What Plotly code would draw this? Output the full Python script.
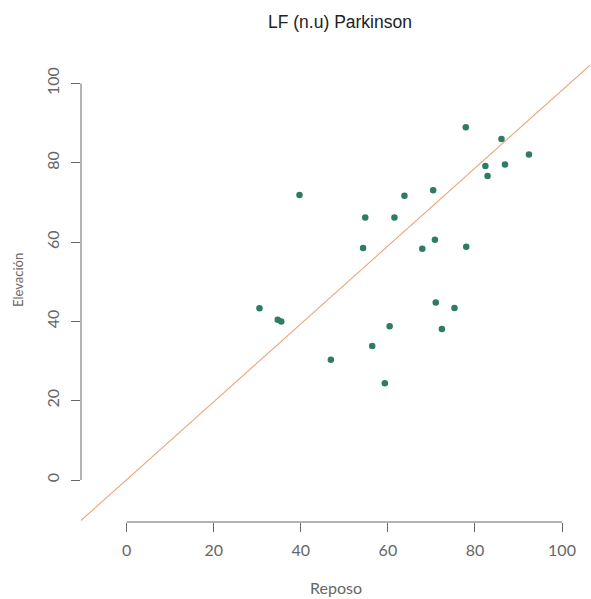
import plotly.graph_objects as go

# ---- data ----
reposo = [39.7, 77.9, 86.1, 92.4, 82.4, 86.9, 82.9, 70.4, 63.8, 54.8, 61.5, 54.3, 67.9, 70.8, 78.0,
          30.5, 34.7, 35.5, 46.9, 56.4, 60.4, 59.3, 71.0, 75.3, 72.4]
elevacion = [71.9, 89.0, 86.0, 82.1, 79.2, 79.6, 76.7, 73.1, 71.7, 66.2, 66.2, 58.5, 58.3, 60.6, 58.8,
             43.3, 40.4, 40.0, 30.3, 33.8, 38.8, 24.4, 44.8, 43.4, 38.1]
line_intercept = 0.1
line_slope = 0.982
x_ticks = [0, 20, 40, 60, 80, 100]
y_ticks = [0, 20, 40, 60, 80, 100]
title_text = "LF (n.u) Parkinson"
x_title = "Reposo"
y_title = "Elevación"

# ---- style ----
AX = "#666666"
FONT = "Lato, 'DejaVu Sans', sans-serif"
x_range = [-10.5, 106.43]
y_range = [-10.59, 111.48]

fig = go.Figure()

lx = [x_range[0] - 10, x_range[1] + 10]
ly = [line_intercept + line_slope * v for v in lx]
fig.add_trace(go.Scatter(x=lx, y=ly, mode="lines",
                         line=dict(color="#E8A77C", width=1.1), hoverinfo="skip"))

fig.add_trace(go.Scatter(x=reposo, y=elevacion, mode="markers",
                         marker=dict(color="#2F7B65", size=6.5, line=dict(width=0))))

# R-style detached axis lines spanning first to last tick
fig.add_shape(type="line", xref="x", yref="paper", x0=x_ticks[0], x1=x_ticks[-1], y0=0, y1=0,
              line=dict(color=AX, width=1))
fig.add_shape(type="line", xref="paper", yref="y", x0=0, x1=0, y0=y_ticks[0], y1=y_ticks[-1],
              line=dict(color=AX, width=1))

fig.update_xaxes(range=x_range, tickmode="array", tickvals=x_ticks, automargin=False,
                 ticktext=[str(t) for t in x_ticks], ticks="outside", ticklen=9,
                 tickcolor=AX, tickwidth=1, showline=False, showgrid=False, zeroline=False,
                 tickfont=dict(family=FONT, size=16, color=AX), ticklabelstandoff=5)
fig.update_yaxes(range=y_range, tickmode="array", tickvals=y_ticks, automargin=False,
                 ticktext=[str(t) for t in y_ticks], ticks="outside", ticklen=9,
                 tickcolor=AX, tickwidth=1, showline=False, showgrid=False, zeroline=False,
                 tickangle=-90,
                 tickfont=dict(family=FONT, size=16, color=AX), ticklabelstandoff=6)

fig.add_annotation(text=title_text, xref="paper", yref="paper", x=0.508, y=1.0,
                   yanchor="middle", yshift=16.5, xanchor="center",
                   showarrow=False, font=dict(family="Liberation Sans, Arial, sans-serif", size=17.5, color="#222222"))
fig.add_annotation(text=x_title, xref="paper", yref="paper", x=0.5, y=0,
                   yanchor="middle", yshift=-65, xanchor="center",
                   showarrow=False, font=dict(family=FONT, size=16, color=AX))
fig.add_annotation(text=y_title, xref="paper", yref="paper", x=0, y=0.5, xanchor="center",
                   yanchor="middle", xshift=-63,
                   textangle=-90, showarrow=False, font=dict(family=FONT, size=13, color=AX))

fig.update_layout(width=591, height=599, showlegend=False,
                  plot_bgcolor="white", paper_bgcolor="white",
                  margin=dict(l=81, r=1, t=38, b=77, autoexpand=False))

fig.write_html("out.html", post_script="document.body.style.margin='0px';",
               config={"displayModeBar": False})
